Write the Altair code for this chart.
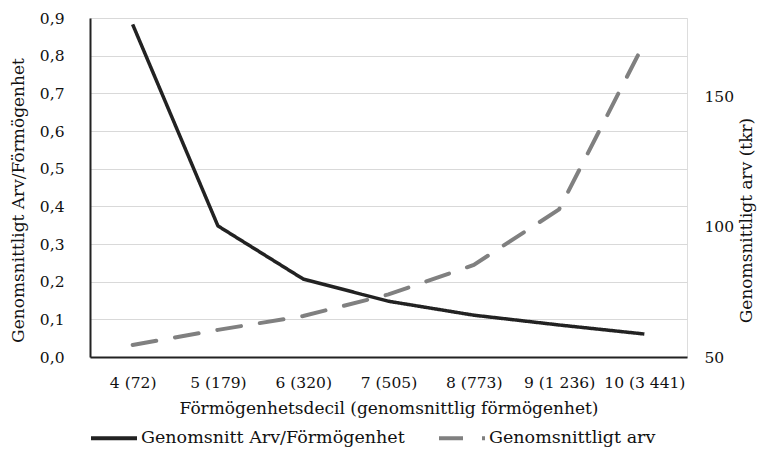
import altair as alt
import pandas as pd

deciles = ["4 (72)", "5 (179)", "6 (320)", "7 (505)", "8 (773)", "9 (1 236)", "10 (3 441)"]
ratio = [0.883, 0.348, 0.207, 0.148, 0.111, 0.085, 0.061]
arv = [54.6, 60.4, 65.7, 74.0, 85.3, 106.6, 170.5]
left_ticks = [0.0, 0.1, 0.2, 0.3, 0.4, 0.5, 0.6, 0.7, 0.8, 0.9]
right_ticks = [50, 100, 150]

s1 = "Genomsnitt Arv/Förmögenhet"
s2 = "Genomsnittligt arv"

df1 = pd.DataFrame({"decil": deciles, "ratio": ratio, "serie": [s1] * len(deciles)})
df2 = pd.DataFrame({"decil": deciles, "arv": arv, "serie": [s2] * len(deciles)})

FONT = "DejaVu Serif"
FS = 15.5
TFS = 17
TXT = "#111111"

color = alt.Color("serie:N", scale=alt.Scale(domain=[s1, s2], range=["#222222", "#808080"]), title=None,
                  legend=alt.Legend(orient="none", legendX=-1, legendY=395, direction="horizontal",
                                    symbolType="stroke", symbolSize=2116, symbolStrokeWidth=4,
                                    labelFont=FONT, labelFontSize=17.5, labelColor=TXT, labelOffset=2,
                                    columnPadding=26, labelLimit=400))
dash = alt.StrokeDash("serie:N", scale=alt.Scale(domain=[s1, s2], range=[[1, 0], [24, 19]]), title=None)

x = alt.X("decil:N", sort=deciles, scale=alt.Scale(type="point", padding=0.5),
          axis=alt.Axis(title="Förmögenhetsdecil (genomsnittlig förmögenhet)", labelAngle=0, ticks=False,
                        domainColor="#222222", domainWidth=2, labelPadding=18, grid=False,
                        labelFont=FONT, labelFontSize=FS, labelColor=TXT,
                        titleFont=FONT, titleFontSize=TFS, titleFontWeight="normal", titleColor=TXT,
                        titleY=51, titleBaseline="middle"))

left = alt.Chart(df1).mark_line(strokeWidth=3.5).encode(
    x=x,
    y=alt.Y("ratio:Q", scale=alt.Scale(domain=[0, 0.9], nice=False, zero=True),
            axis=alt.Axis(values=left_ticks, labelExpr="replace(format(datum.value, '.1f'), '.', ',')",
                          grid=True, gridColor="#d9d9d9", gridWidth=1.2, ticks=False,
                          domainColor="#222222", domainWidth=2, labelPadding=26,
                          labelFont=FONT, labelFontSize=FS, labelColor=TXT,
                          title="Genomsnittligt Arv/Förmögenhet", titleFont=FONT, titleFontSize=TFS,
                          titleFontWeight="normal", titleColor=TXT, titleX=-72, titleY=182,
                          titleBaseline="middle", titleAngle=270)),
    color=color,
    strokeDash=dash,
)

right = alt.Chart(df2).mark_line(strokeWidth=4, strokeCap="round").encode(
    x=x,
    y=alt.Y("arv:Q", scale=alt.Scale(domain=[50, 180], nice=False, zero=False),
            axis=alt.Axis(orient="right", values=right_ticks, grid=False, ticks=False, domain=False,
                          labelPadding=17, labelFont=FONT, labelFontSize=FS, labelColor=TXT,
                          title="Genomsnittligt arv (tkr)", titleFont=FONT, titleFontSize=TFS,
                          titleFontWeight="normal", titleColor=TXT, titleX=59, titleY=202,
                          titleBaseline="middle", titleAngle=270)),
    color=color,
    strokeDash=dash,
)

chart = alt.layer(left, right).resolve_scale(y="independent").properties(
    width=597, height=339,
    autosize=alt.AutoSizeParams(type="none"),
    padding={"left": 90, "top": 18, "right": 74, "bottom": 96},
    background="white",
).configure_view(stroke=None).configure(font=FONT)

chart.save("out.html", embed_options={"renderer": "svg", "actions": False})
